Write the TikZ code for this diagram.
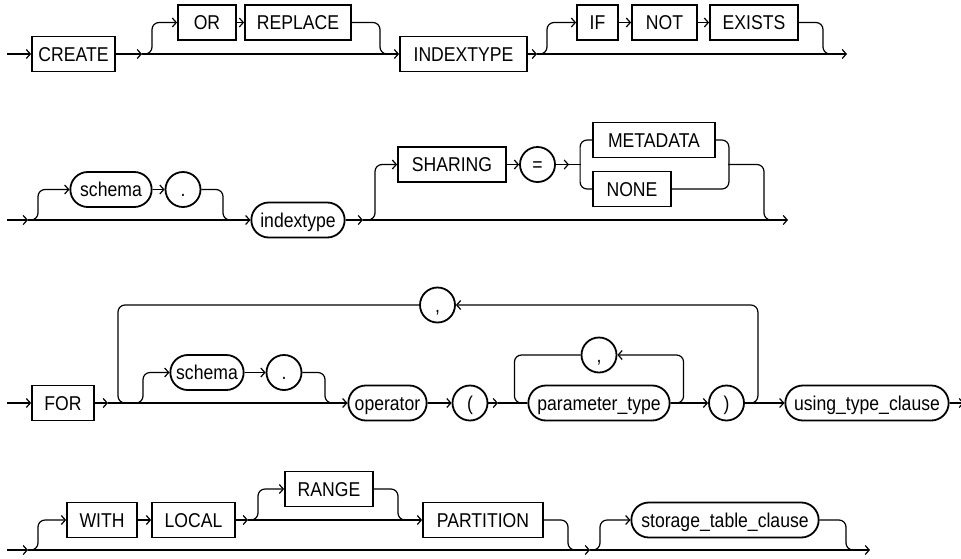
\documentclass[tikz,border=0pt]{standalone}
\usepackage{fontspec}
\setmainfont{Liberation Sans}[FakeStretch=0.88]
\usetikzlibrary{arrows.meta,shapes.misc}

\begin{document}
\begin{tikzpicture}[
    x=1pt,y=-1pt,>={Straight Barb[length=4pt,width=9pt]},
    kw/.style={rectangle,draw,line width=1.8pt,minimum height=35pt,
      text height=14.4pt,text depth=0pt,font=\fontsize{20}{23}\selectfont},
    nt/.style={rounded rectangle,draw,line width=1.8pt,minimum height=35pt,
      minimum width=34pt,text height=14.4pt,text depth=0pt,
      font=\fontsize{20}{23}\selectfont},
    rail/.style={line width=1.2pt,rounded corners=7pt},
    flow/.style={rail,->}
  ]
    \useasboundingbox (0,0) rectangle (961,558);

    % CREATE [OR REPLACE] INDEXTYPE [IF NOT EXISTS]
    \node[kw,minimum width=83] (create) at (73.5,54) {CREATE};
    \node[kw,minimum width=58] (or) at (207,22.5) {OR};
    \node[kw,minimum width=106] (replace) at (298,22.5) {REPLACE};
    \node[kw,minimum width=127] (indextype) at (463.5,54) {INDEXTYPE};
    \node[kw,minimum width=41] (if) at (597.5,22.5) {IF};
    \node[kw,minimum width=65] (not) at (664.5,22.5) {NOT};
    \node[kw,minimum width=88] (exists) at (754,22.5) {EXISTS};
    \coordinate (s1) at (7,54);
    \coordinate (j1) at (142,54);
    \coordinate (m1) at (391,54);
    \coordinate (j2) at (537,54);
    \coordinate (m2) at (833,54);
    \coordinate (e1) at (847,54);

    \draw[flow] (s1) -- (create.west);
    \draw[flow] (create.east) -- (j1);
    \draw[flow] (j1) -- (indextype.west);
    \draw[flow] (j1) -- ++(10,0) |- (or.west);
    \draw[rail] (replace.east) -| ([xshift=-11pt]m1) -- (m1);
    \draw[flow] (indextype.east) -- (j2);
    \draw[flow] (j2) -- (e1);
    \draw[flow] (j2) -- ++(10,0) |- (if.west);
    \draw[rail] (exists.east) -| ([xshift=-10pt]m2) -- (m2);

    % [schema .] indextype [SHARING = METADATA|NONE]
    \node[nt,minimum width=88] (schema) at (111,189.5) {schema};
    \node[nt] (dot) at (183,189.5) {.};
    \node[nt,minimum width=100] (indexname) at (298,220) {indextype};
    \node[kw,minimum width=108] (sharing) at (452,164.5) {SHARING};
    \node[nt,minimum width=37] (eq) at (537.5,164.5) {=};
    \node[kw,minimum width=122] (metadata) at (654,140) {METADATA};
    \node[kw,minimum width=78] (none) at (632,189) {NONE};
    \coordinate (s2) at (7,220);
    \coordinate (j3) at (28,220);
    \coordinate (m3) at (236,220);
    \coordinate (j4) at (363,220);
    \coordinate (j5) at (569,164.5);
    \coordinate (b2) at (728,164.5);
    \coordinate (m4) at (776,220);
    \coordinate (e2) at (788,220);

    \draw[flow] (s2) -- (j3);
    \draw[flow] (j3) -- (indexname.west);
    \draw[flow] (j3) -- ++(10,0) |- (schema.west);
    \draw[rail] (dot.east) -| ([xshift=-13pt]m3) -- (m3);
    \draw[flow] (indexname.east) -- (j4);
    \draw[flow] (j4) -- (e2);
    \draw[flow] (j4) -- ++(12,0) |- (sharing.west);
    \draw[flow] (eq.east) -- (j5);
    \draw[rail] (j5) -- ++(12,0);
    \draw[rail] (metadata.west) -- ++(-12,0) |- (none.west);
    \draw[rail] (metadata.east) -- ++(13,0) |- (none.east);
    \draw[rail] (b2) -| ([xshift=-12pt]m4) -- (m4);

    % FOR [schema .] operator ( parameter_type, ... ) using_type_clause
    \node[kw,minimum width=62] (for) at (63,403) {FOR};
    \node[nt,minimum width=36] (comma) at (437.5,305) {,};
    \node[nt,minimum width=80] (schemaop) at (207,372.5) {schema};
    \node[nt] (dotop) at (284,372.5) {.};
    \node[nt,minimum width=85] (operator) at (387.5,403) {operator};
    \node[nt] (lparen) at (470,403) {(};
    \node[nt,minimum width=148] (ptype) at (599,403) {parameter\_type};
    \node[nt] (pcomma) at (599,355) {,};
    \node[nt] (rparen) at (726.5,403) {)};
    \node[nt,minimum width=170] (using) at (867,403) {using\_type\_clause};
    \coordinate (s3) at (7,403);
    \coordinate (j6) at (108,403);
    \coordinate (j7) at (133,403);
    \coordinate (m5) at (335,403);
    \coordinate (j8) at (498,403);
    \coordinate (e3) at (964,403);

    \draw[flow] (s3) -- (for.west);
    \draw[flow] (for.east) -- (j6);
    \draw[flow] (j6) -- (operator.west);
    \draw[flow] (j7) -- ++(10,0) |- (schemaop.west);
    \draw[rail] (dotop.east) -| ([xshift=-10pt]m5) -- (m5);
    \draw[flow] (lparen.east) -- (j8);
    \draw[rail] (j8) -- (ptype.west);
    \draw[flow] (ptype.east) -- ++(13,0) |- (pcomma.east);
    \draw[rail] (pcomma.west) -| ([xshift=-13pt]ptype.west) -- (ptype.west);
    \draw[flow] (rparen.east) -- ++(13,0) |- (comma.east);
    \draw[rail] (comma.west) -| ([xshift=-15pt]j7) -- (j7);
    \draw[flow] (using.east) -- (e3);

    % [WITH LOCAL [RANGE] PARTITION] [storage_table_clause]
    \node[kw,minimum width=70] (with) at (102,520) {WITH};
    \node[kw,minimum width=83] (local) at (193.5,520) {LOCAL};
    \node[kw,minimum width=88] (range) at (329,489) {RANGE};
    \node[kw,minimum width=120] (partition) at (483,520) {PARTITION};
    \node[nt,minimum width=194] (storage) at (725,520) {storage\_table\_clause};
    \coordinate (s4) at (7,550);
    \coordinate (j9) at (28,550);
    \coordinate (j10) at (248,520);
    \coordinate (m6) at (410,520);
    \coordinate (m7) at (580,550);
    \coordinate (j11) at (590,550);
    \coordinate (m8) at (858,550);
    \coordinate (e4) at (870,550);

    \draw[flow] (s4) -- (j9);
    \draw[flow] (j9) -- (j11);
    \draw[flow] (j11) -- (e4);
    \draw[flow] (j9) -- ++(10,0) |- (with.west);
    \draw[flow] (local.east) -- (j10);
    \draw[flow] (j10) -- (partition.west);
    \draw[flow] (j10) -- ++(10,0) |- (range.west);
    \draw[rail] (range.east) -| ([xshift=-12pt]m6) -- (m6);
    \draw[rail] (partition.east) -| ([xshift=-12pt]m7) -- (m7);
    \draw[flow] (j11) -- ++(10,0) |- (storage.west);
    \draw[rail] (storage.east) -| ([xshift=-12pt]m8) -- (m8);

    \foreach \a/\b in {or/replace,if/not,not/exists,schema/dot,sharing/eq,
        schemaop/dotop,operator/lparen,ptype/rparen,rparen/using,with/local}
      \draw[flow] (\a.east) -- (\b.west);
  \end{tikzpicture}
\end{document}
